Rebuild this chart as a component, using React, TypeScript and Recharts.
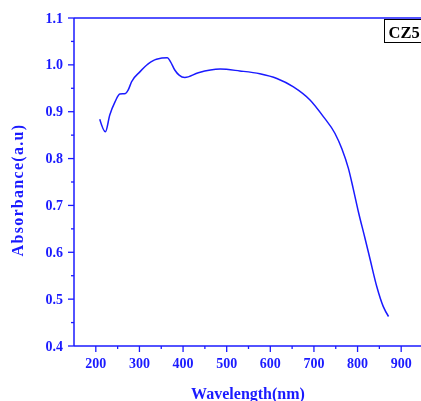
import React from "react";
import { LineChart, Line, XAxis, YAxis, ReferenceLine } from "recharts";

const wavelengths = [209, 222, 232, 244, 255, 268, 274, 282, 301, 320, 339, 364, 371, 381, 391, 404, 435, 485, 530, 576, 615, 653, 691, 722, 748, 764, 779, 790, 802, 817, 829, 844, 859, 871];
const absorbance = [0.884, 0.857, 0.893, 0.921, 0.938, 0.939, 0.946, 0.964, 0.985, 1.002, 1.012, 1.015, 1.007, 0.989, 0.978, 0.973, 0.983, 0.991, 0.987, 0.981, 0.971, 0.953, 0.925, 0.889, 0.854, 0.821, 0.779, 0.736, 0.686, 0.63, 0.584, 0.527, 0.484, 0.463];

const xTicks = [200, 250, 300, 350, 400, 450, 500, 550, 600, 650, 700, 750, 800, 850, 900];
const yTicks = [0.4, 0.45, 0.5, 0.55, 0.6, 0.65, 0.7, 0.75, 0.8, 0.85, 0.9, 0.95, 1.0, 1.05, 1.1];

const data = wavelengths.map((w, i) => ({ x: w, y: absorbance[i] }));

const BLUE = "#1a1aff";
const FONT = "'Liberation Serif', 'Times New Roman', serif";
const TICK_SIZE = 6;
const TICK_MARGIN = 4;

const YTick = (props: any) => {
  const { x, y, payload } = props;
  const v = payload.value as number;
  const major = Math.abs(v * 10 - Math.round(v * 10)) < 1e-6;
  const ax = x + TICK_SIZE + TICK_MARGIN;
  return (
    <g>
      <line x1={ax - (major ? 6 : 3)} x2={ax} y1={y} y2={y} stroke={BLUE} strokeWidth={1.3} />
      {major && (
        <text x={x - 1} y={y} textAnchor="end" dominantBaseline="central" fill={BLUE} fontFamily={FONT} fontWeight="bold" fontSize={14}>
          {v.toFixed(1)}
        </text>
      )}
    </g>
  );
};

const XTick = (props: any) => {
  const { x, y, payload } = props;
  const v = payload.value as number;
  const major = v % 100 === 0;
  const ay = y - TICK_SIZE - TICK_MARGIN;
  return (
    <g>
      <line x1={x} x2={x} y1={ay} y2={ay + (major ? 6 : 3)} stroke={BLUE} strokeWidth={1.3} />
      {major && (
        <text x={x} y={y + 7} textAnchor="middle" dominantBaseline="central" fill={BLUE} fontFamily={FONT} fontWeight="bold" fontSize={14}>
          {v}
        </text>
      )}
    </g>
  );
};

const Extras = () => (
  <g>
    <text x={240} y={385} textAnchor="middle" dominantBaseline="central" fill={BLUE} fontFamily={FONT} fontWeight="bold" fontSize={16}>
      Wavelength(nm)
    </text>
    <text x={9} y={182} transform="rotate(-90 9 182)" textAnchor="middle" dominantBaseline="central" fill={BLUE} fontFamily={FONT} fontWeight="bold" fontSize={16} letterSpacing={1.3}>
      Absorbance(a.u)
    </text>
    <rect x={376.5} y={11.5} width={50} height={23} fill="#fff" stroke="#000" strokeWidth={1} />
    <text x={380.5} y={29.5} fill="#000" fontFamily={FONT} fontWeight="bold" fontSize={16.5}>
      CZ5
    </text>
  </g>
);

export default function App() {
  return (
    <div style={{ position: "fixed", left: 8, top: 8 }}>
      <LineChart width={415} height={393} data={data} margin={{ top: 10, right: 0, bottom: 0, left: 0 }}>
        <XAxis
          type="number"
          dataKey="x"
          domain={[150, 950]}
          ticks={xTicks}
          interval={0}
          height={55}
          tickSize={TICK_SIZE}
          tickMargin={TICK_MARGIN}
          tickLine={false}
          axisLine={{ stroke: BLUE, strokeWidth: 1.5 }}
          tick={<XTick />}
          label={{ content: () => <Extras /> }}
        />
        <YAxis
          type="number"
          domain={[0.4, 1.1]}
          ticks={yTicks}
          interval={0}
          width={66}
          tickSize={TICK_SIZE}
          tickMargin={TICK_MARGIN}
          tickLine={false}
          axisLine={{ stroke: BLUE, strokeWidth: 1.5 }}
          tick={<YTick />}
        />
        <ReferenceLine y={1.1} stroke={BLUE} strokeWidth={1.5} />
        <Line type="monotone" dataKey="y" stroke={BLUE} strokeWidth={1.5} dot={false} isAnimationActive={false} />
      </LineChart>
    </div>
  );
}
